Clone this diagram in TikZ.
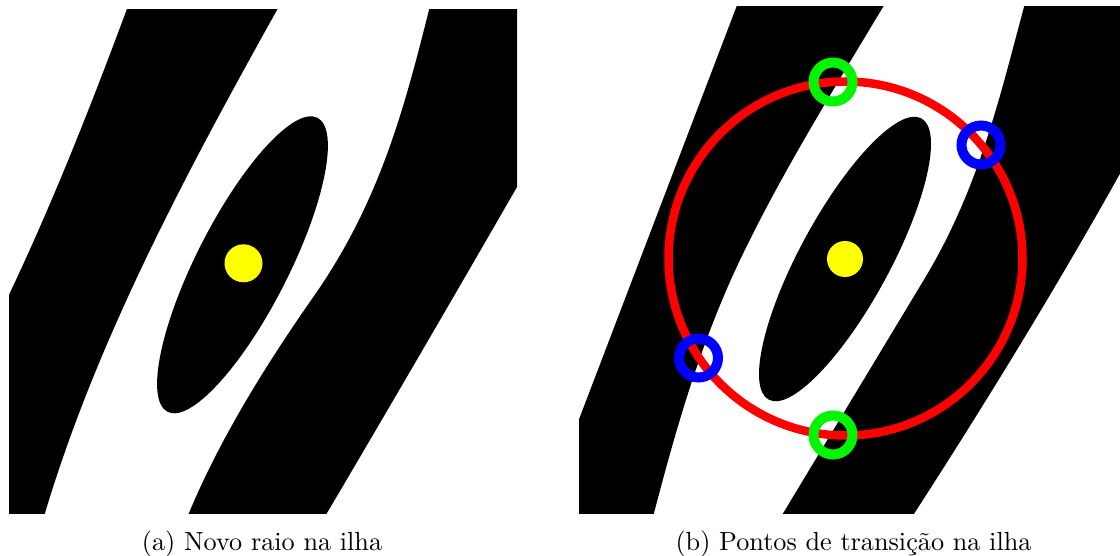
\documentclass[tikz,border=0pt]{standalone}
\definecolor{dotyellow}{RGB}{255,255,0}
\definecolor{ringgreen}{RGB}{0,245,0}
\definecolor{ringblue}{RGB}{0,0,255}
\definecolor{pathred}{RGB}{255,0,0}
\tikzset{
  ink/.style={fill=black},
  seed/.style={circle, fill=dotyellow, inner sep=0pt, minimum size=#1},
  ring/.style={circle, draw=#1, line width=10pt, inner sep=0pt, minimum size=39pt},
  route/.style={draw=pathred, line width=8.5pt},
  captext/.style={anchor=base, font=\fontsize{10}{12}\selectfont, scale=2.62, transform shape, inner sep=0pt},
}
\begin{document}
\begin{tikzpicture}[x=1pt, y=-1pt]
\useasboundingbox (0,0) rectangle (1120,556);

% ---------- panel (a) ----------
\begin{scope}
  \clip (9,10) rectangle (517,513);
  % left stripe
  \fill[ink] (134,-10) .. controls (90,109) and (44,227) .. (-16,346)
    -- (-16,540) -- (37,540) -- (45,513)
    .. controls (96,343) and (182,180) .. (277,10) -- (288,-10) -- cycle;
  % right stripe
  \fill[ink] (434,-10) -- (429,10)
    .. controls (405,105) and (380.5,201) .. (314,296)
    .. controls (263.6,368) and (219,441) .. (189,513) -- (180,535)
    -- (314,535) .. controls (388,410) and (474,262) .. (544,140)
    -- (544,-10) -- cycle;
  % island
  \fill[ink, rotate around={63:(242.5,264.8)}] (242.5,264.8) ellipse [x radius=165, y radius=46];
\end{scope}
\node[seed=38pt] (seedA) at (243.5,263.3) {};

% ---------- panel (b) ----------
\begin{scope}
  \clip (579,7) rectangle (1120,513);
  % left stripe
  \fill[ink] (744,-13) -- (565,456) -- (560,540) -- (647,540) -- (654,513)
    .. controls (676,429) and (700,344) .. (740,260)
    .. controls (780,176) and (832.6,91) .. (883,7) -- (895,-13) -- cycle;
  % right stripe
  \fill[ink] (1030,-13) -- (1024,7)
    .. controls (999.7,97) and (979,188) .. (925,278)
    -- (767,540) -- (897,540)
    .. controls (985,405) and (1068,269) .. (1142,134)
    -- (1142,-13) -- cycle;
  % island
  \fill[ink, rotate around={61.5:(845,259)}] (845,259) ellipse [x radius=160, y radius=45];
\end{scope}
\node[seed=36pt] (seedB) at (845,259) {};

% search circle and transition points
\draw[route] (845.5,258.5) circle [radius=177];
\node[ring=ringgreen] (topG) at (833,82) {};
\node[ring=ringgreen] (botG) at (833,435) {};
\node[ring=ringblue] (rightB) at (981,145) {};
\node[ring=ringblue] (leftB) at (698.5,358) {};

% captions
\node[captext] (capA) at (262,550) {(a) Novo raio na ilha};
\node[captext] (capB) at (853.5,550) {(b) Pontos de transição na ilha};
\end{tikzpicture}
\end{document}
